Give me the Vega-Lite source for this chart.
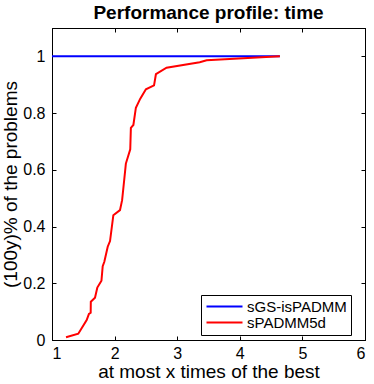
{
  "$schema": "https://vega.github.io/schema/vega-lite/v6.json",
  "width": 313,
  "height": 312,
  "autosize": {"type": "none"},
  "padding": {"left": 52, "top": 28, "right": 9, "bottom": 44},
  "background": "white",
  "config": {
    "font": "Liberation Sans",
    "view": {"stroke": "black", "strokeWidth": 1},
    "axis": {
      "grid": false,
      "domainColor": "black",
      "tickColor": "black",
      "tickSize": -4,
      "labelColor": "black",
      "titleColor": "black",
      "labelFont": "Liberation Sans",
      "titleFont": "Liberation Sans",
      "labelFontSize": 16,
      "titleFontSize": 19,
      "titleFontWeight": "normal"
    }
  },
  "title": {
    "text": "Performance profile: time",
    "font": "Liberation Sans",
    "fontSize": 19,
    "fontWeight": "bold",
    "color": "black",
    "offset": 5
  },
  "datasets": {
    "profile": [
      {"series": "sGS-isPADMM", "x": 1.0, "y": 1.0},
      {"series": "sGS-isPADMM", "x": 4.64, "y": 1.0},
      {"series": "sPADMM5d", "x": 1.224, "y": 0.01},
      {"series": "sPADMM5d", "x": 1.42, "y": 0.022},
      {"series": "sPADMM5d", "x": 1.554, "y": 0.07},
      {"series": "sPADMM5d", "x": 1.59, "y": 0.092},
      {"series": "sPADMM5d", "x": 1.618, "y": 0.096},
      {"series": "sPADMM5d", "x": 1.62, "y": 0.135},
      {"series": "sPADMM5d", "x": 1.687, "y": 0.149},
      {"series": "sPADMM5d", "x": 1.724, "y": 0.185},
      {"series": "sPADMM5d", "x": 1.79, "y": 0.209},
      {"series": "sPADMM5d", "x": 1.81, "y": 0.26},
      {"series": "sPADMM5d", "x": 1.836, "y": 0.276},
      {"series": "sPADMM5d", "x": 1.89, "y": 0.329},
      {"series": "sPADMM5d", "x": 1.927, "y": 0.349},
      {"series": "sPADMM5d", "x": 1.98, "y": 0.44},
      {"series": "sPADMM5d", "x": 2.086, "y": 0.458},
      {"series": "sPADMM5d", "x": 2.12, "y": 0.493},
      {"series": "sPADMM5d", "x": 2.15, "y": 0.557},
      {"series": "sPADMM5d", "x": 2.18, "y": 0.622},
      {"series": "sPADMM5d", "x": 2.25, "y": 0.672},
      {"series": "sPADMM5d", "x": 2.26, "y": 0.748},
      {"series": "sPADMM5d", "x": 2.30, "y": 0.758},
      {"series": "sPADMM5d", "x": 2.34, "y": 0.819},
      {"series": "sPADMM5d", "x": 2.41, "y": 0.851},
      {"series": "sPADMM5d", "x": 2.50, "y": 0.884},
      {"series": "sPADMM5d", "x": 2.63, "y": 0.898},
      {"series": "sPADMM5d", "x": 2.66, "y": 0.937},
      {"series": "sPADMM5d", "x": 2.83, "y": 0.96},
      {"series": "sPADMM5d", "x": 3.36, "y": 0.979},
      {"series": "sPADMM5d", "x": 3.47, "y": 0.986},
      {"series": "sPADMM5d", "x": 4.64, "y": 1.0}
    ]
  },
  "data": {"name": "profile"},
  "resolve": {"axis": {"x": "independent", "y": "independent"}},
  "layer": [
    {
      "mark": {"type": "line", "strokeWidth": 2},
      "encoding": {
        "x": {
          "field": "x", "type": "quantitative",
          "scale": {"domain": [1, 6], "nice": false},
          "axis": {"orient": "bottom", "values": [1, 2, 3, 4, 5, 6], "format": "~g", "title": "at most x times of the best", "labelPadding": 9, "titlePadding": 1}
        },
        "y": {
          "field": "y", "type": "quantitative",
          "scale": {"domain": [0, 1.1], "nice": false},
          "axis": {"orient": "left", "values": [0, 0.2, 0.4, 0.6, 0.8, 1], "format": "~g", "title": "(100y)% of the problems", "labelPadding": 11, "titlePadding": 2}
        },
        "color": {
          "field": "series", "type": "nominal",
          "scale": {"domain": ["sGS-isPADMM", "sPADMM5d"], "range": ["#0000ff", "#ff0000"]},
          "legend": {
            "title": null,
            "orient": "none",
            "legendX": 149,
            "legendY": 267,
            "direction": "vertical",
            "symbolType": "M-1,0H5",
            "symbolSize": 144,
            "symbolStrokeWidth": 2,
            "labelFont": "Liberation Sans",
            "labelFontSize": 15,
            "labelColor": "black",
            "labelOffset": 27,
            "rowPadding": 0,
            "strokeColor": "black",
            "fillColor": "white",
            "padding": 4
          }
        }
      }
    },
    {
      "mark": {"type": "line", "opacity": 0},
      "encoding": {
        "x": {
          "field": "x", "type": "quantitative",
          "axis": {"orient": "top", "values": [1, 2, 3, 4, 5, 6], "labels": false, "title": null}
        },
        "y": {
          "field": "y", "type": "quantitative",
          "axis": {"orient": "right", "values": [0, 0.2, 0.4, 0.6, 0.8, 1], "labels": false, "title": null}
        },
        "detail": {"field": "series"}
      }
    }
  ]
}
